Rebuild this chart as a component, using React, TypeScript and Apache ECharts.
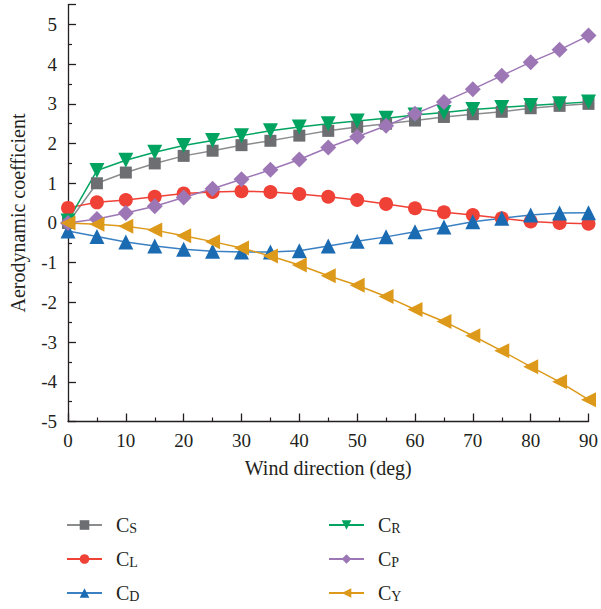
import React, { useEffect, useRef } from "react";
import * as echarts from "echarts";

const angles = [0, 5, 10, 15, 20, 25, 30, 35, 40, 45, 50, 55, 60, 65, 70, 75, 80, 85, 90];
const cS = [0.0, 1.0, 1.27, 1.5, 1.69, 1.82, 1.96, 2.07, 2.2, 2.32, 2.42, 2.5, 2.58, 2.67, 2.74, 2.8, 2.89, 2.95, 3.0];
const cL = [0.38, 0.52, 0.58, 0.66, 0.74, 0.78, 0.8, 0.78, 0.73, 0.66, 0.58, 0.48, 0.37, 0.27, 0.2, 0.12, 0.04, 0.0, -0.02];
const cD = [-0.2, -0.34, -0.48, -0.58, -0.66, -0.71, -0.73, -0.73, -0.7, -0.58, -0.46, -0.35, -0.22, -0.1, 0.03, 0.12, 0.2, 0.25, 0.26];
const cR = [0.05, 1.32, 1.58, 1.78, 1.95, 2.08, 2.2, 2.32, 2.42, 2.5, 2.57, 2.64, 2.72, 2.78, 2.86, 2.91, 2.96, 3.0, 3.05];
const cP = [0.0, 0.1, 0.25, 0.42, 0.64, 0.86, 1.1, 1.34, 1.6, 1.9, 2.17, 2.45, 2.75, 3.05, 3.37, 3.71, 4.05, 4.36, 4.72];
const cY = [0.0, -0.03, -0.08, -0.18, -0.32, -0.47, -0.63, -0.83, -1.06, -1.33, -1.57, -1.85, -2.18, -2.48, -2.84, -3.22, -3.62, -4.0, -4.45];

const FONT = "Liberation Serif";
const AXIS = "#231f20";

const seriesDefs = [
  { name: "CS", data: cS, color: "#6d6e71", line: "#8a8c8e", symbol: "rect", size: 12 },
  { name: "CL", data: cL, color: "#ef4136", line: "#ef4136", symbol: "circle", size: 14 },
  { name: "CD", data: cD, color: "#1b6bb3", line: "#3a80c2", symbol: "triangle", size: 15 },
  { name: "CR", data: cR, color: "#00a460", line: "#00a460", symbol: "path://M0,0 L10,0 L5,9 Z", size: 15 },
  { name: "CP", data: cP, color: "#9d77b5", line: "#9d77b5", symbol: "diamond", size: 16 },
  { name: "CY", data: cY, color: "#dd9a1a", line: "#dd9a1a", symbol: "path://M0,5 L9,0 L9,10 Z", size: 15 },
];

const legendRich = {
  c: { fontSize: 20, fontFamily: FONT, color: AXIS, verticalAlign: "top", lineHeight: 20, padding: [0, 0, 0, 9] },
  s: { fontSize: 14, fontFamily: FONT, color: AXIS, verticalAlign: "bottom", lineHeight: 14, padding: [9, 0, 0, 0] },
};

const makeLegend = (names: string[], left: number) => ({
  orient: "vertical",
  left,
  top: 512,
  height: 97,
  padding: 0,
  itemWidth: 35,
  itemHeight: 12,
  itemGap: 11,
  data: names,
  formatter: (n: string) => `{c|C}{s|${n.slice(1)}}`,
  textStyle: { rich: legendRich },
});

export default function App() {
  const ref = useRef<HTMLDivElement>(null);
  useEffect(() => {
    if (!ref.current) return;
    const chart = echarts.init(ref.current, undefined, { renderer: "svg" });
    chart.setOption({
      animation: false,
      backgroundColor: "#ffffff",
      grid: { left: 66, right: 11, top: 4.6, bottom: 187.5, containLabel: false },
      legend: [makeLegend(["CS", "CL", "CD"], 66), makeLegend(["CR", "CP", "CY"], 328)],
      xAxis: {
        type: "value",
        min: 0,
        max: 90,
        interval: 10,
        name: "Wind direction (deg)",
        nameLocation: "middle",
        nameGap: 36,
        nameTextStyle: { fontFamily: FONT, fontSize: 20, color: AXIS },
        axisLine: { onZero: false, lineStyle: { color: AXIS, width: 1.3 } },
        axisTick: { inside: true, length: 8, lineStyle: { color: AXIS, width: 1.3 } },
        minorTick: { show: true, splitNumber: 2, length: 4, lineStyle: { color: AXIS, width: 1.2 } },
        axisLabel: { fontFamily: FONT, fontSize: 19, color: AXIS, margin: 9 },
        splitLine: { show: false },
      },
      yAxis: {
        type: "value",
        min: -5,
        max: 5.5,
        interval: 1,
        name: "Aerodynamic coefficient",
        nameLocation: "middle",
        nameGap: 40,
        nameTextStyle: { fontFamily: FONT, fontSize: 20, color: AXIS },
        axisLine: { show: true, onZero: false, lineStyle: { color: AXIS, width: 1.3 } },
        axisTick: { show: true, inside: true, length: 8, lineStyle: { color: AXIS, width: 1.3 } },
        minorTick: { show: true, splitNumber: 2, length: 4, lineStyle: { color: AXIS, width: 1.2 } },
        axisLabel: {
          fontFamily: FONT,
          fontSize: 19,
          color: AXIS,
          margin: 11,
          formatter: (v: number) => (Number.isInteger(v) ? String(v) : ""),
        },
        splitLine: { show: false },
      },
      series: seriesDefs.map((s) => ({
        name: s.name,
        type: "line",
        data: angles.map((a, i) => [a, s.data[i]]),
        symbol: s.symbol,
        symbolSize: s.size,
        showSymbol: true,
        itemStyle: { color: s.color },
        lineStyle: { color: s.line, width: 1.5 },
        clip: false,
      })),
    });
    return () => chart.dispose();
  }, []);
  return <div ref={ref} style={{ width: 601, height: 609, position: "absolute", left: 0, top: 0 }} />;
}
